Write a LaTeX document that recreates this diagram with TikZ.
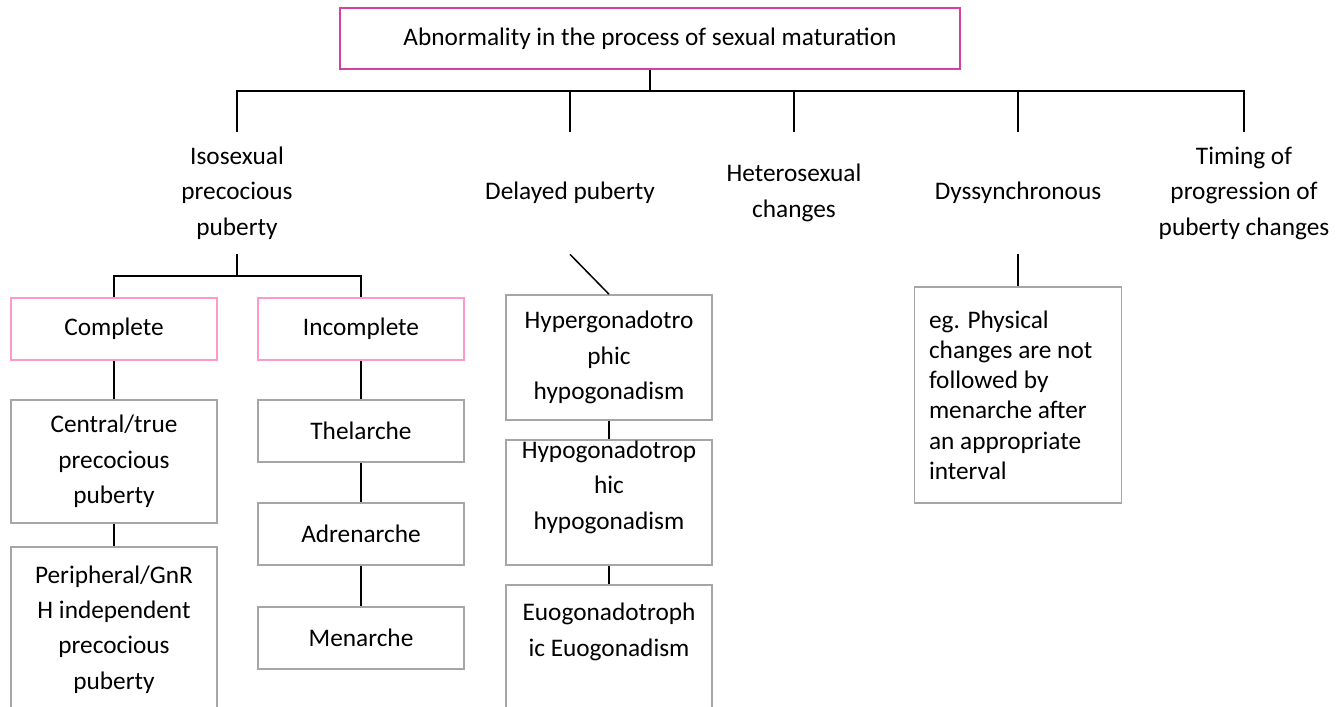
\documentclass[tikz,border=0pt]{standalone}
\usepackage{fontspec}
\setmainfont{Carlito}
\usepackage{tikz}
\definecolor{topline}{RGB}{212,64,160}
\definecolor{pinkline}{RGB}{255,153,204}
\definecolor{greyline}{RGB}{166,166,166}
\tikzstyle{topbox} = [rectangle, draw=topline, line width=0.9pt, minimum width=12.4cm, minimum height=1.22cm, text centered, font=\fontsize{14.4}{20.2}\selectfont]
\tikzstyle{heading} = [rectangle, minimum height=2.44cm, align=center, font=\fontsize{14.4}{20.2}\selectfont]
\tikzstyle{pinkbox} = [rectangle, draw=pinkline, line width=0.9pt, minimum width=4.12cm, minimum height=1.24cm, text centered, font=\fontsize{14.4}{20.2}\selectfont]
\tikzstyle{greybox} = [rectangle, draw=greyline, line width=0.9pt, minimum width=4.12cm, minimum height=1.24cm, inner sep=2pt, align=center, font=\fontsize{14.4}{20.2}\selectfont]
\tikzstyle{notebox} = [rectangle, draw=greyline, line width=0.9pt, minimum width=4.14cm, minimum height=4.32cm, text width=3.56cm, align=flush left, font=\fontsize{14.4}{17.2}\selectfont]
\tikzstyle{connector} = [line width=0.85pt]

\begin{document}
\begin{tikzpicture}[x=0.02cm, y=-0.02cm]
                 \useasboundingbox (0,0) rectangle (1340,707);
                 \clip (0,0) rectangle (1340,707);
                 \node [topbox] at (650,38.5) (top) {Abnormality in the process of sexual maturation};
                 \coordinate (bus) at (650,91);
                 \node [heading] at (237,193) (iso) {Isosexual\\precocious\\puberty};
                 \node [heading] at (570,193) (delayed) {Delayed puberty};
                 \node [heading] at (794,193) (hetero) {Heterosexual\\changes};
                 \node [heading] at (1018,193) (dyssync) {Dyssynchronous};
                 \node [heading] at (1244,193) (timing) {Timing of\\progression of\\puberty changes};
                 \coordinate (isobus) at (237,276);
                 \node [pinkbox] at (114,329) (complete) {Complete};
                 \node [pinkbox] at (361,329) (incomplete) {Incomplete};
                 \node [greybox, minimum height=2.46cm] at (114,461.5) (central) {Central/true\\precocious\\puberty};
                 \node [greybox, minimum height=3.3cm] at (114,629.5) (peripheral) {Peripheral/GnR\\H independent\\precocious\\puberty};
                 \node [greybox] at (361,431) (thelarche) {Thelarche};
                 \node [greybox] at (361,534) (adrenarche) {Adrenarche};
                 \node [greybox] at (361,638) (menarche) {Menarche};
                 \node [greybox, minimum height=2.5cm] at (609,357.5) (hyper) {Hypergonadotro\\phic\\hypogonadism};
                 \node [greybox, minimum height=2.5cm, inner ysep=0pt] at (609,502.5) (hypo) {Hypogonadotrop\\hic\\hypogonadism\\ };
                 \node [greybox, minimum height=2.5cm] at (609,647.5) (eu) {Euogonadotroph\\ic Euogonadism\\ };
                 \node [notebox] at (1018,395) (note) {eg. Physical\\changes are not\\followed by\\menarche after\\an appropriate\\interval};
                 \draw [connector] (top.south) -- (bus);
                 \draw [connector] (bus) -| (iso.north);
                 \draw [connector] (bus) -| (delayed.north);
                 \draw [connector] (bus) -| (hetero.north);
                 \draw [connector] (bus) -| (dyssync.north);
                 \draw [connector] (bus) -| (timing.north);
                 \draw [connector] (iso.south) -- (isobus);
                 \draw [connector] (isobus) -| (complete.north);
                 \draw [connector] (isobus) -| (incomplete.north);
                 \draw [connector] (complete) -- (central);
                 \draw [connector] (central) -- (peripheral);
                 \draw [connector] (incomplete) -- (thelarche);
                 \draw [connector] (thelarche) -- (adrenarche);
                 \draw [connector] (adrenarche) -- (menarche);
                 \draw [connector] (delayed.south) -- (hyper.north);
                 \draw [connector] (hyper) -- (hypo);
                 \draw [connector] (hypo) -- (eu);
                 \draw [connector] (dyssync.south) -- (note.north);
                 \end{tikzpicture}
\end{document}
